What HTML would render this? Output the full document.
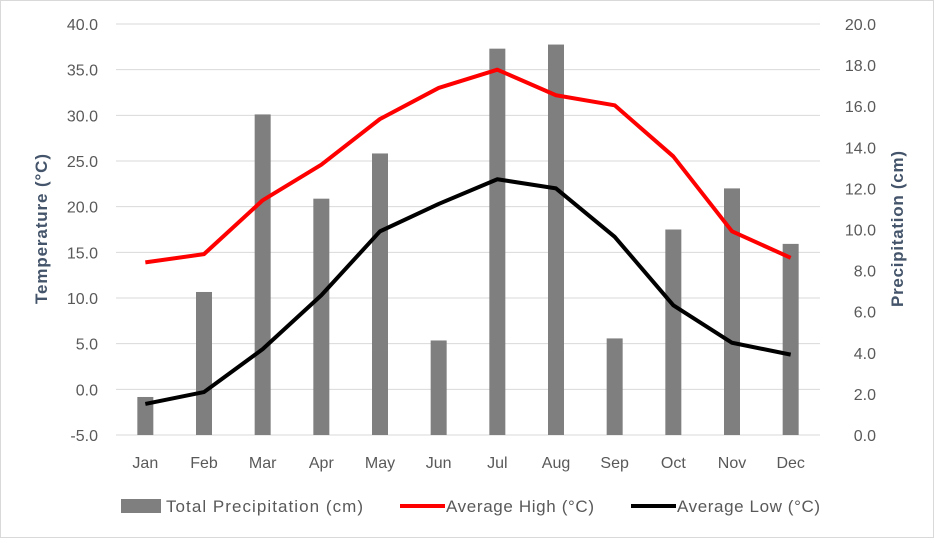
<!DOCTYPE html>
<html><head><meta charset="utf-8"><style>
body{margin:0;background:#fff;}
svg text{font-family:"Liberation Sans",sans-serif;fill:#595959;}
</style></head><body>
<svg id="chart" width="934" height="538" xmlns="http://www.w3.org/2000/svg">
<rect x="0.5" y="0.5" width="933" height="537" fill="#fff" stroke="#d9d9d9"/>
<g id="grid"></g><g id="bars"></g><g id="lines"></g><g id="axes"></g>
<text transform="translate(47,229) rotate(-90)" text-anchor="middle" font-size="17" font-weight="bold" textLength="150" style="fill:#44546a">Temperature (°C)</text>
<text transform="translate(903,229) rotate(-90)" text-anchor="middle" font-size="17" font-weight="bold" textLength="156" style="fill:#44546a">Precipitation (cm)</text>
<g>
<rect x="121" y="499" width="40" height="14" fill="#7f7f7f"/>
<text x="166" y="512" font-size="17" textLength="197">Total Precipitation (cm)</text>
<line x1="400" y1="506" x2="445" y2="506" stroke="#ff0000" stroke-width="4"/>
<text x="446" y="512" font-size="17" textLength="148">Average High (°C)</text>
<line x1="631" y1="506" x2="676" y2="506" stroke="#000" stroke-width="4"/>
<text x="677" y="512" font-size="17" textLength="143">Average Low (°C)</text>
</g>
</svg>
<script>
const months=["Jan","Feb","Mar","Apr","May","Jun","Jul","Aug","Sep","Oct","Nov","Dec"];
const precip=[1.85,6.96,15.6,11.5,13.7,4.6,18.8,19.0,4.7,10.0,12.0,9.3];
const highs=[13.9,14.8,20.7,24.6,29.6,33.0,35.0,32.2,31.1,25.5,17.3,14.4];
const lows=[-1.6,-0.3,4.4,10.3,17.3,20.3,23.0,22.0,16.7,9.2,5.1,3.8];
const leftTicks=[-5,0,5,10,15,20,25,30,35,40];
const rightTicks=[0,2,4,6,8,10,12,14,16,18,20];
const NS="http://www.w3.org/2000/svg";
const xLeft=116,xRight=820,yTop=24,yBot=435;
const step=(xRight-xLeft)/12;
const xs=i=>xLeft+step*(i+0.5);
const yL=v=>yBot-(v+5)/45*(yBot-yTop);
const yR=v=>yBot-v/20*(yBot-yTop);
function mk(tag,attrs,parent){const e=document.createElementNS(NS,tag);for(const k in attrs)e.setAttribute(k,attrs[k]);document.getElementById(parent).appendChild(e);return e;}
leftTicks.forEach(t=>{
 const l=mk("line",{x1:xLeft,x2:xRight,y1:yL(t),y2:yL(t),stroke:"#d9d9d9","stroke-width":1},"grid");
 
 
 const tx=mk("text",{x:98,y:yL(t)+6,"text-anchor":"end","font-size":"16"},"axes");
 tx.textContent=t.toFixed(1);
 
 
});
rightTicks.forEach(t=>{
 const tx=mk("text",{x:876,y:yR(t)+6,"text-anchor":"end","font-size":"16"},"axes");
 tx.textContent=t.toFixed(1);
 
 
});
months.forEach((m,i)=>{
 const tx=mk("text",{x:xs(i),y:468,"text-anchor":"middle","font-size":"16"},"axes");
 tx.textContent=m;
 
 
 const b=mk("rect",{x:xs(i)-8,y:yR(precip[i]),width:16,height:yBot-yR(precip[i]),fill:"#7f7f7f"},"bars");
 
 
});
const hp=mk("polyline",{points:highs.map((v,i)=>xs(i)+","+yL(v)).join(" "),fill:"none",stroke:"#ff0000","stroke-width":4,"stroke-linejoin":"round"},"lines");


const lp=mk("polyline",{points:lows.map((v,i)=>xs(i)+","+yL(v)).join(" "),fill:"none",stroke:"#000","stroke-width":4,"stroke-linejoin":"round"},"lines");


</script>
</body></html>
